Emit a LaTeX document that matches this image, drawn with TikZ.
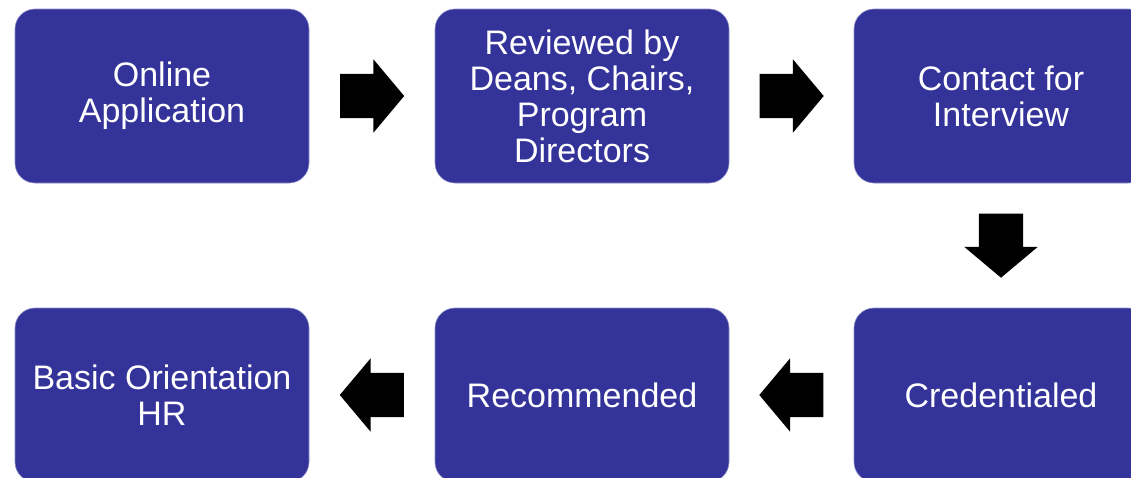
\documentclass[tikz,border=0pt]{standalone}
\usepackage{fontspec}
\setmainfont{Liberation Sans}
\usetikzlibrary{shapes.arrows,calc}
\definecolor{stepblue}{RGB}{51,51,153}

\begin{document}
\begin{tikzpicture}[x=1pt, y=-1pt,
  stepbox/.style={rectangle, rounded corners=20pt, fill=stepblue,
    draw=stepblue!55!white, line width=0.6pt, text=white, align=center,
    minimum width=294pt, minimum height=174pt, inner sep=0pt,
    font=\fontsize{34}{36}\selectfont},
  flowarrow/.style={single arrow, fill=black, draw=none, anchor=tail,
    inner xsep=0pt, inner ysep=22pt, minimum height=64pt,
    single arrow head extend=14.5pt, single arrow tip angle=100},
  downarrow/.style={flowarrow, shape border rotate=270,
    inner xsep=22pt, inner ysep=0pt}]
  % page frame, the right and bottom boxes run off it
  \useasboundingbox (0,0) rectangle (1131,477);
  \clip (0,0) rectangle (1131,477);

  % top row
  \node[stepbox] (apply) at (162,96) {Online\\Application};
  \node[stepbox] (review) at (582,96) {Reviewed by\\Deans, Chairs,\\Program\\Directors};
  \node[stepbox] (contact) at (1001,96) {Contact for\\Interview};

  % bottom row
  \node[stepbox] (cred) at (1001,395) {Credentialed};
  \node[stepbox] (recom) at (582,395) {Recommended};
  \node[stepbox] (orient) at (162,395) {Basic Orientation\\HR};

  % block arrows
  \node[flowarrow] (a1) at ($(apply.east)!0.5!(review.west)+(-32,0)$) {};
  \node[flowarrow] (a2) at ($(review.east)!0.5!(contact.west)+(-32,0)$) {};
  \node[downarrow] (a3) at ($(contact.south)!0.5!(cred.north)+(0,-32)$) {};
  \node[flowarrow, shape border rotate=180] (a4) at ($(cred.west)!0.5!(recom.east)+(32,0)$) {};
  \node[flowarrow, shape border rotate=180] (a5) at ($(recom.west)!0.5!(orient.east)+(32,0)$) {};
\end{tikzpicture}
\end{document}
